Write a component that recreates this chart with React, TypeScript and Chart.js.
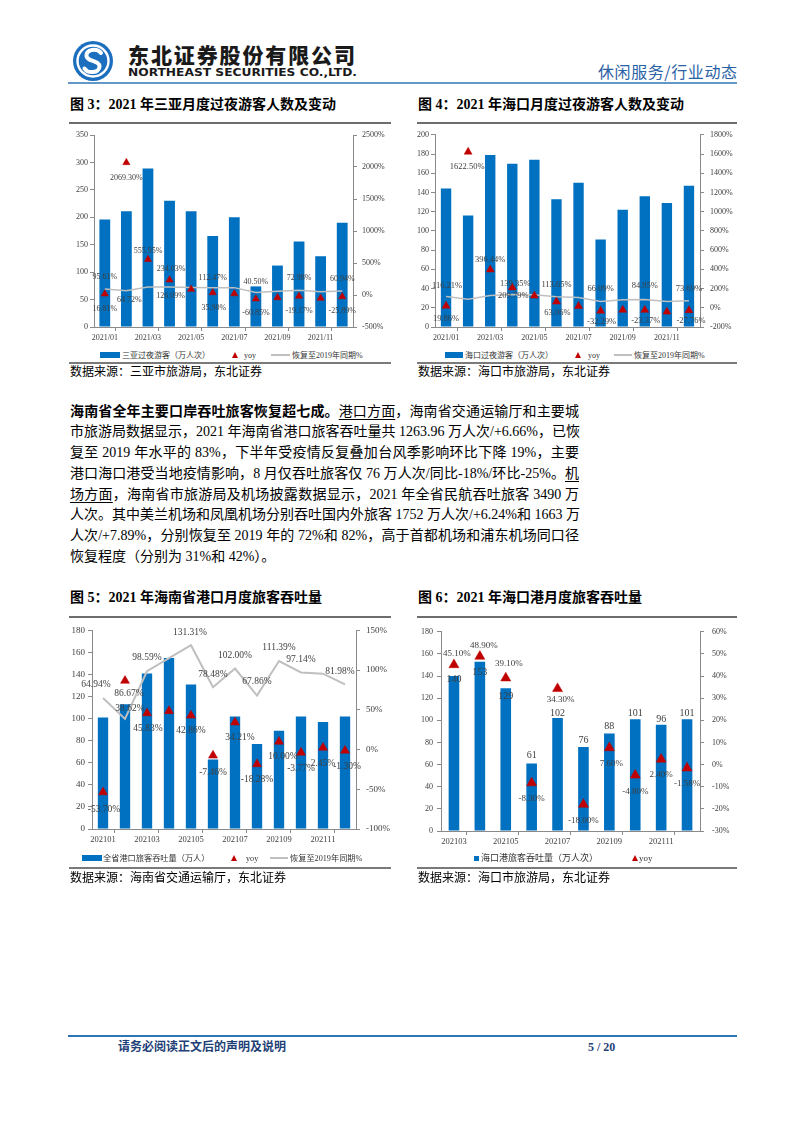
import React, { useEffect, useRef } from 'react';
import { Chart, registerables } from 'chart.js';

Chart.register(...registerables);

const SERIF = "'Liberation Serif', 'Noto Sans CJK SC', serif";
Chart.defaults.font.family = SERIF;

const BLUE = '#0070C0';
const RED = '#C00000';
const GRAY = '#BFBFBF';
const AXIS = '#8a8a8a';
const TICK = '#404040';
const LABEL = '#404040';

// ---------------- 图3 三亚 ----------------
const sanyaMonths = ['2021/01', '2021/02', '2021/03', '2021/04', '2021/05', '2021/06', '2021/07', '2021/08', '2021/09', '2021/10', '2021/11', '2021/12'];
const sanyaVisitors = [196, 211, 289, 230, 211, 166, 200, 74, 112, 156, 129, 190];
const sanyaYoy = [16.81, 2069.3, 555.95, 234.03, 90, 35.9, 20, -60.85, -40, -19.17, -50, -25.89];
const sanyaRecovery = [95.61, 64.72, 125, 126.09, 118, 112.47, 115, 40.5, 60, 72.98, 50, 60.94];

// ---------------- 图4 海口 ----------------
const haikouMonths = sanyaMonths;
const haikouVisitors = [144, 116, 179, 170, 174, 133, 150, 91, 122, 136, 129, 147];
const haikouYoy = [19.86, 1622.5, 396.44, 209.79, 125, 63.06, 17, -32.29, -22, -23.37, -42, -27.76];
const haikouRecovery = [116.21, 90, 128, 139.35, 135, 113.65, 107, 66.09, 83, 84.95, 66, 73.69];

// ---------------- 图5 海南省港口 ----------------
const portMonths = ['202101', '202102', '202103', '202104', '202105', '202106', '202107', '202108', '202109', '202110', '202111', '202112'];
const portPassengers = [101, 113, 141, 155, 131, 63, 102, 77, 89, 102, 97, 102];
const portYoy = [-53.7, 86.67, 45.83, 48.5, 42.86, -7.46, 34.21, -18.28, 10.0, -3.77, 2.45, -1.3];
const portRecovery = [64.94, 38.62, 98.59, 115, 131.31, 78.48, 102.0, 67.86, 111.39, 97.14, 95.5, 81.98];

// ---------------- 图6 海口港 ----------------
const hkPortMonths = ['202103', '202104', '202105', '202106', '202107', '202108', '202109', '202110', '202111', '202112'];
const hkPortPassengers = [140, 153, 129, 61, 102, 76, 88, 101, 96, 101];
const hkPortYoy = [45.1, 48.9, 39.1, -8.3, 34.3, -18.0, 7.6, -4.8, 2.4, -1.58];

// label placement (offsets in px from the mark; null = no label)
type Pos = [number, number] | null;
const sanyaYoyLabelPos: Pos[] = [[0, 15], [0, 15], [0, -9], [1.5, -11], null, [1, 15], null, [0, 14], null, [0, 15], null, [0, 14]];
const sanyaRecLabelPos: Pos[] = [[0, -12], [3, 9], null, [1, 9], null, [0, -10], null, [0, -11], null, [0, -12], null, [0, -12]];
const haikouYoyLabelPos: Pos[] = [[0, 13], [-1, 15], [0, -10], [1, 8], null, [1, 11], null, [1, 11], null, [1, 11], null, [2, 10]];
const haikouRecLabelPos: Pos[] = [[1, -11], null, null, [3, -11], null, [0, -12.5], null, [0, -12.5], null, [0, -14], null, [0, -12]];
const portYoyLabelPos: Pos[] = [[1, 17], [4, 13], [1, 15], null, [0, 15], [0, 17], [5, 15], [0, 15], [4, 15], [0, 16], [0, 16], [2, 16]];
const portRecLabelPos: Pos[] = [[-7, -13], [5, -10], [0, -14], null, [-1, -12.5], [0, -12.5], [0, -13], [0, -14], [0, -14], [0, -13], null, [-5, -13]];
const hkPortYoyLabelPos: Pos[] = [[3, -11], [4, -11], [3, -14], [0, 16], [3, 11], [0, 16], [2, 16], [0, 16], [0, 15], [0, 16]];
const hkPortBarLabelPos: Pos[] = [[0, 3], [0, 10.5], [0, 8], [0, -8], [0, -5], [0, -7], [0, -7], [0, -5.5], [0, -5], [0, -5.5]];

interface ComboOpts {
  labels: string[];
  bars: number[];
  yoy: number[];
  recovery?: number[];
  left: [number, number, number];
  right: [number, number, number];
  padTop: number;
  leftW: number;
  rightW: number;
  xH: number;
  barPct: number;
  triR: number;
  lineW: number;
  yTick: number;
  xTick: number;
  leftPad: number;
  rightPad: number;
  yoyPos: Pos[];
  recPos?: Pos[];
  barPos?: Pos[];
  labelSize: number;
  barLabelSize?: number;
}

const pct = (v: number) => v.toFixed(2) + '%';

function labelPlugin(o: ComboOpts) {
  return {
    id: 'valueLabels',
    afterDatasetsDraw(chart: any) {
      const ctx = chart.ctx as CanvasRenderingContext2D;
      const draw = (dsIndex: number, pos: Pos[] | undefined, size: number, fmt: (v: number) => string) => {
        if (!pos) return;
        const meta = chart.getDatasetMeta(dsIndex);
        const data = chart.data.datasets[dsIndex].data as number[];
        ctx.font = `${size}px ${SERIF}`;
        meta.data.forEach((el: any, i: number) => {
          const p = pos[i];
          if (!p) return;
          ctx.fillText(fmt(data[i]), el.x + p[0], el.y + p[1]);
        });
      };
      ctx.save();
      ctx.fillStyle = LABEL;
      ctx.textAlign = 'center';
      ctx.textBaseline = 'middle';
      const barIdx = o.recovery ? 2 : 1;
      draw(barIdx, o.barPos, o.barLabelSize || o.labelSize, (v) => String(v));
      if (o.recovery) draw(1, o.recPos, o.labelSize, pct);
      draw(0, o.yoyPos, o.labelSize, pct);
      ctx.restore();
    },
  };
}

function buildConfig(o: ComboOpts) {
  const datasets: any[] = [
    {
      type: 'line',
      label: 'yoy',
      data: o.yoy,
      yAxisID: 'y1',
      showLine: false,
      pointStyle: 'triangle',
      pointRadius: o.triR,
      pointHoverRadius: o.triR,
      pointBackgroundColor: RED,
      pointBorderColor: RED,
      pointBorderWidth: 0.5,
      order: 0,
    },
  ];
  if (o.recovery) {
    datasets.push({
      type: 'line',
      label: 'recovery',
      data: o.recovery,
      yAxisID: 'y1',
      borderColor: GRAY,
      borderWidth: o.lineW,
      pointRadius: 0,
      tension: 0,
      fill: false,
      order: 1,
    });
  }
  datasets.push({
    type: 'bar',
    label: 'bars',
    data: o.bars,
    yAxisID: 'y',
    backgroundColor: BLUE,
    barPercentage: o.barPct,
    categoryPercentage: 1,
    order: 2,
  });

  const yAxis = (position: string, range: [number, number, number], width: number, pad: number, suffix: string) => ({
    type: 'linear',
    position,
    min: range[0],
    max: range[1],
    ticks: {
      stepSize: range[2],
      color: TICK,
      font: { size: o.yTick, family: SERIF },
      padding: pad,
      callback: (v: any) => `${v}${suffix}`,
    },
    grid: { drawOnChartArea: false, drawTicks: true, tickLength: 4, color: AXIS, lineWidth: 1 },
    border: { display: true, color: AXIS, width: 1 },
    afterFit: (s: any) => {
      s.width = width;
    },
  });

  return {
    type: 'bar',
    data: { labels: o.labels, datasets },
    options: {
      responsive: false,
      animation: false,
      devicePixelRatio: 1,
      events: [],
      layout: { padding: { top: o.padTop, left: 0, right: 0, bottom: 0 } },
      plugins: { legend: { display: false }, tooltip: { enabled: false } },
      scales: {
        x: {
          type: 'category',
          offset: true,
          ticks: {
            autoSkip: false,
            maxRotation: 0,
            minRotation: 0,
            color: TICK,
            font: { size: o.xTick, family: SERIF },
            padding: 2,
            callback: (_v: any, i: number) => (i % 2 === 0 ? o.labels[i] : ''),
          },
          grid: {
            offset: true,
            drawOnChartArea: false,
            drawTicks: true,
            tickLength: 4,
            color: (c: any) => (typeof c.index === 'number' && c.index % 2 === 1 ? AXIS : 'rgba(0,0,0,0)'),
          },
          border: { display: true, color: AXIS, width: 1 },
          afterFit: (s: any) => {
            s.height = o.xH;
          },
        },
        y: yAxis('left', o.left, o.leftW, o.leftPad, ''),
        y1: yAxis('right', o.right, o.rightW, o.rightPad, '%'),
      },
    },
    plugins: [labelPlugin(o)],
  };
}

function Combo({ x, y, w, h, opts }: { x: number; y: number; w: number; h: number; opts: ComboOpts }) {
  const ref = useRef<HTMLCanvasElement | null>(null);
  useEffect(() => {
    if (!ref.current) return;
    const chart = new Chart(ref.current, buildConfig(opts) as any);
    return () => chart.destroy();
  }, []);
  return <canvas ref={ref} width={w} height={h} style={{ position: 'absolute', left: x, top: y, width: w, height: h }} />;
}

// ---------- small layout helpers ----------
function Txt({ x, y, size, children, style }: { x: number; y: number; size: number; children: any; style?: any }) {
  const lh = Math.round(size * 1.4);
  return (
    <div
      style={{
        position: 'absolute',
        left: x,
        top: y - lh / 2,
        height: lh,
        lineHeight: `${lh}px`,
        fontSize: size,
        whiteSpace: 'nowrap',
        fontFamily: SERIF,
        color: '#000',
        ...style,
      }}
    >
      {children}
    </div>
  );
}

function HLine({ x1, x2, y, w, color }: { x1: number; x2: number; y: number; w: number; color: string }) {
  return <div style={{ position: 'absolute', left: x1, top: y - w / 2, width: x2 - x1, height: w, background: color }} />;
}

function LRect({ x1, x2, y, h }: { x1: number; x2: number; y: number; h: number }) {
  return <div style={{ position: 'absolute', left: x1, top: y - h / 2, width: x2 - x1, height: h, background: BLUE }} />;
}

function LTri({ cx, y, w, h }: { cx: number; y: number; w: number; h: number }) {
  return (
    <div
      style={{
        position: 'absolute',
        left: cx - w / 2,
        top: y - h / 2,
        width: 0,
        height: 0,
        borderLeft: `${w / 2}px solid transparent`,
        borderRight: `${w / 2}px solid transparent`,
        borderBottom: `${h}px solid ${RED}`,
      }}
    />
  );
}

function LLine({ x1, x2, y }: { x1: number; x2: number; y: number }) {
  return <div style={{ position: 'absolute', left: x1, top: y - 0.75, width: x2 - x1, height: 1.5, background: GRAY }} />;
}

const legendText = { color: '#333' };

const paraLines = [
  <>
    <b>海南省全年主要口岸吞吐旅客恢复超七成。</b>
    <u>港口方面</u>，海南省交通运输厅和主要城
  </>,
  <>市旅游局数据显示，2021 年海南省港口旅客吞吐量共 1263.96 万人次/+6.66%，已恢</>,
  <>复至 2019 年水平的 83%，下半年受疫情反复叠加台风季影响环比下降 19%，主要</>,
  <>
    港口海口港受当地疫情影响，8 月仅吞吐旅客仅 76 万人次/同比-18%/环比-25%。<u>机</u>
  </>,
  <>
    <u>场方面</u>，海南省市旅游局及机场披露数据显示，2021 年全省民航吞吐旅客 3490 万
  </>,
  <>人次。其中美兰机场和凤凰机场分别吞吐国内外旅客 1752 万人次/+6.24%和 1663 万</>,
  <>人次/+7.89%，分别恢复至 2019 年的 72%和 82%，高于首都机场和浦东机场同口径</>,
  <>恢复程度（分别为 31%和 42%）。</>,
];

const sanyaOpts: ComboOpts = {
  labels: sanyaMonths,
  bars: sanyaVisitors,
  yoy: sanyaYoy,
  recovery: sanyaRecovery,
  left: [0, 350, 50],
  right: [-500, 2500, 500],
  padTop: 11,
  leftW: 24,
  rightW: 39,
  xH: 22,
  barPct: 0.5,
  triR: 4.2,
  lineW: 1.5,
  yTick: 8,
  xTick: 8,
  leftPad: 2,
  rightPad: 5,
  yoyPos: sanyaYoyLabelPos,
  recPos: sanyaRecLabelPos,
  labelSize: 8,
};

const haikouOpts: ComboOpts = {
  labels: haikouMonths,
  bars: haikouVisitors,
  yoy: haikouYoy,
  recovery: haikouRecovery,
  left: [0, 200, 20],
  right: [-200, 1800, 200],
  padTop: 10,
  leftW: 23,
  rightW: 40,
  xH: 22,
  barPct: 0.47,
  triR: 4.6,
  lineW: 1.5,
  yTick: 8,
  xTick: 8,
  leftPad: 2,
  rightPad: 6,
  yoyPos: haikouYoyLabelPos,
  recPos: haikouRecLabelPos,
  labelSize: 8.5,
};

const portOpts: ComboOpts = {
  labels: portMonths,
  bars: portPassengers,
  yoy: portYoy,
  recovery: portRecovery,
  left: [0, 180, 20],
  right: [-100, 150, 50],
  padTop: 11,
  leftW: 24,
  rightW: 36,
  xH: 22,
  barPct: 0.47,
  triR: 5.2,
  lineW: 2,
  yTick: 9,
  xTick: 8.5,
  leftPad: 3,
  rightPad: 6,
  yoyPos: portYoyLabelPos,
  recPos: portRecLabelPos,
  labelSize: 9.5,
};

const hkPortOpts: ComboOpts = {
  labels: hkPortMonths,
  bars: hkPortPassengers,
  yoy: hkPortYoy,
  left: [0, 180, 20],
  right: [-30, 60, 10],
  padTop: 12,
  leftW: 25,
  rightW: 40,
  xH: 22,
  barPct: 0.41,
  triR: 5.8,
  lineW: 2,
  yTick: 8,
  xTick: 8.5,
  leftPad: 4,
  rightPad: 8,
  yoyPos: hkPortYoyLabelPos,
  barPos: hkPortBarLabelPos,
  labelSize: 9,
  barLabelSize: 10,
};

export default function App() {
  const titleStyle = { fontWeight: 700 };
  const srcStyle = { color: '#000' };
  return (
    <div
      style={{
        position: 'absolute',
        left: 0,
        top: 0,
        width: 802,
        height: 1133,
        background: '#fff',
        overflow: 'hidden',
        fontFamily: SERIF,
      }}
    >
      {/* header */}
      <svg width={802} height={90} style={{ position: 'absolute', left: 0, top: 0 }}>
        <circle cx={93} cy={61} r={20} fill="#1c6fbf" />
        <circle cx={93} cy={61} r={15.5} fill="none" stroke="#fff" strokeWidth={2.4} />
        <path
          d="M 101 53 C 97 48, 86 49, 86.5 56 C 87 62, 99.5 60, 99.5 66.5 C 99.5 73, 88 74, 84.5 68.5"
          fill="none"
          stroke="#fff"
          strokeWidth={4}
          strokeLinecap="round"
        />
        <text
          x={128}
          y={62.5}
          fontSize={21}
          fontWeight={900}
          fontFamily="'Noto Sans CJK SC', sans-serif"
          fill="#1a1a1a"
          textLength={227}
          lengthAdjust="spacing"
        >
          东北证券股份有限公司
        </text>
        <text
          x={128}
          y={75.5}
          fontSize={10.5}
          fontWeight={700}
          fontFamily="'DejaVu Sans', sans-serif"
          fill="#1a1a1a"
          textLength={229}
          lengthAdjust="spacingAndGlyphs"
        >
          NORTHEAST SECURITIES CO.,LTD.
        </text>
        <text
          x={598}
          y={78}
          fontSize={16}
          fontFamily="'Noto Sans CJK SC', sans-serif"
          fill="#2a62a6"
          textLength={139}
          lengthAdjust="spacing"
        >
          休闲服务/行业动态
        </text>
        <line x1={68} y1={83} x2={737} y2={83} stroke="#2e75b6" strokeWidth={1.5} />
      </svg>

      {/* figure 3 / 4 titles */}
      <Txt x={70} y={105} size={14} style={titleStyle}>
        图 3：2021 年三亚月度过夜游客人数及变动
      </Txt>
      <Txt x={418} y={105} size={14} style={titleStyle}>
        图 4：2021 年海口月度过夜游客人数及变动
      </Txt>
      <HLine x1={69} x2={391} y={123} w={2} color="#6d6d6d" />
      <HLine x1={417} x2={737} y={123} w={2} color="#6d6d6d" />

      <Combo x={70} y={124} w={322} h={225} opts={sanyaOpts} />
      <Combo x={412} y={124} w={328} h={225} opts={haikouOpts} />

      {/* legend fig 3 */}
      <LRect x1={100} x2={120} y={355} h={6} />
      <Txt x={122} y={355} size={8} style={legendText}>三亚过夜游客（万人次）</Txt>
      <LTri cx={235} y={355} w={7} h={6} />
      <Txt x={244} y={355} size={8} style={legendText}>yoy</Txt>
      <LLine x1={271} x2={290} y={355} />
      <Txt x={292} y={355} size={8} style={legendText}>恢复至2019年同期%</Txt>

      {/* legend fig 4 */}
      <LRect x1={445} x2={463} y={355} h={6} />
      <Txt x={465} y={355} size={8} style={legendText}>海口过夜游客（万人次）</Txt>
      <LTri cx={578} y={355} w={7} h={6} />
      <Txt x={588} y={355} size={8} style={legendText}>yoy</Txt>
      <LLine x1={614} x2={632} y={355} />
      <Txt x={634} y={355} size={8} style={legendText}>恢复至2019年同期%</Txt>

      <HLine x1={69} x2={391} y={363} w={1.2} color="#7a7a7a" />
      <HLine x1={417} x2={737} y={363} w={1.2} color="#7a7a7a" />
      <Txt x={70} y={372} size={12} style={srcStyle}>数据来源：三亚市旅游局，东北证券</Txt>
      <Txt x={418} y={372} size={12} style={srcStyle}>数据来源：海口市旅游局，东北证券</Txt>

      {/* paragraph */}
      {paraLines.map((ln, i) => (
        <div
          key={i}
          style={{
            position: 'absolute',
            left: 70,
            top: 401.6 + i * 20.75,
            width: 509,
            height: 20.75,
            lineHeight: '20.75px',
            fontSize: 14,
            whiteSpace: 'nowrap',
            textAlign: 'justify',
            textAlignLast: i === paraLines.length - 1 ? 'left' : 'justify',
            textUnderlineOffset: '3px',
            color: '#000',
          } as any}
        >
          {ln}
        </div>
      ))}

      {/* figure 5 / 6 */}
      <Txt x={70} y={598} size={14} style={titleStyle}>
        图 5：2021 年海南省港口月度旅客吞吐量
      </Txt>
      <Txt x={418} y={598} size={14} style={titleStyle}>
        图 6：2021 年海口港月度旅客吞吐量
      </Txt>
      <HLine x1={69} x2={391} y={617} w={2} color="#6d6d6d" />
      <HLine x1={417} x2={737} y={617} w={2} color="#6d6d6d" />

      <Combo x={68} y={619} w={324} h={232} opts={portOpts} />
      <Combo x={416} y={619} w={324} h={234} opts={hkPortOpts} />

      {/* legend fig 5 */}
      <LRect x1={82} x2={102} y={858} h={6} />
      <Txt x={103} y={858} size={8.2} style={legendText}>全省港口旅客吞吐量（万人）</Txt>
      <LTri cx={234} y={858} w={6} h={6} />
      <Txt x={246} y={858} size={8.2} style={legendText}>yoy</Txt>
      <LLine x1={270} x2={288} y={858} />
      <Txt x={290} y={858} size={8.2} style={legendText}>恢复至2019年同期%</Txt>

      {/* legend fig 6 */}
      <LRect x1={474} x2={479} y={858} h={5} />
      <Txt x={481} y={858} size={9} style={legendText}>海口港旅客吞吐量（万人次）</Txt>
      <LTri cx={635} y={858} w={6} h={6} />
      <Txt x={639} y={858} size={9} style={legendText}>yoy</Txt>

      <HLine x1={69} x2={391} y={868} w={1.2} color="#7a7a7a" />
      <HLine x1={417} x2={737} y={868} w={1.2} color="#7a7a7a" />
      <Txt x={70} y={878} size={12} style={srcStyle}>数据来源：海南省交通运输厅，东北证券</Txt>
      <Txt x={418} y={878} size={12} style={srcStyle}>数据来源：海口市旅游局，东北证券</Txt>

      {/* footer */}
      <HLine x1={68} x2={737} y={1036} w={1.5} color="#2e75b6" />
      <Txt x={118} y={1047} size={12} style={{ fontWeight: 700, color: '#1f3f77' }}>
        请务必阅读正文后的声明及说明
      </Txt>
      <Txt x={588} y={1047} size={12} style={{ fontWeight: 700, color: '#1f3f77' }}>
        5 / 20
      </Txt>
    </div>
  );
}
